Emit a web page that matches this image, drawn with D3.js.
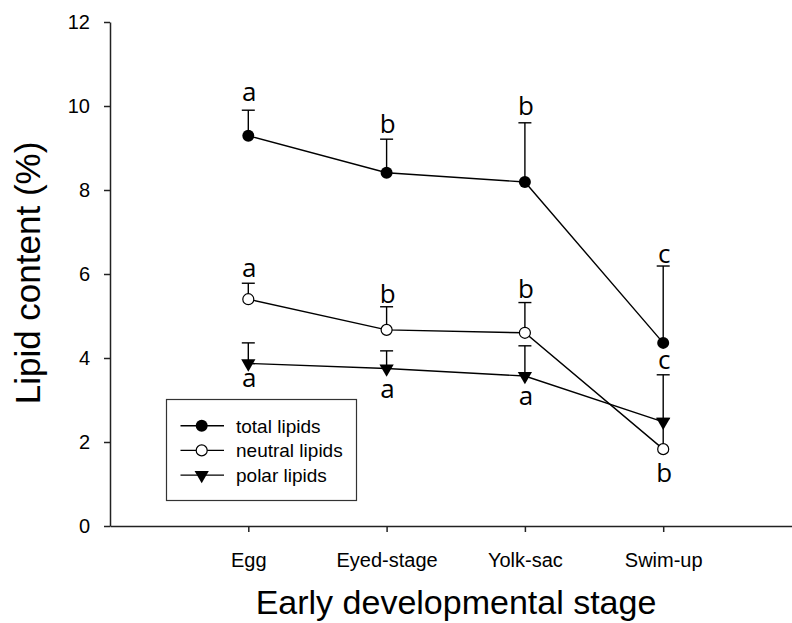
<!DOCTYPE html>
<html>
<head>
<meta charset="utf-8">
<script src="https://cdn.jsdelivr.net/npm/d3@7"></script>
<style>
  html, body { margin: 0; padding: 0; background: #fff; }
  svg { display: block; }
</style>
</head>
<body>
<svg id="chart" width="792" height="623"></svg>
<script>
// ---- Data ----
const categories = ["Egg", "Eyed-stage", "Yolk-sac", "Swim-up"];
const yTicks = [0, 2, 4, 6, 8, 10, 12];

const totalLipids   = [9.29, 8.41, 8.19, 4.36];
const totalErrTop   = [9.90, 9.21, 9.60, 6.19];
const neutralLipids = [5.40, 4.67, 4.60, 1.83];
const neutralErrTop = [5.78, 5.22, 5.32, 2.56];
const polarLipids   = [3.87, 3.75, 3.57, 2.48];
const polarErrTop   = [4.36, 4.17, 4.29, 3.60];

// significance letters and the value level of their baseline
const totalLetters   = ["a", "b", "b", "c"];
const totalLetterY   = [10.13, 9.35, 9.79, 6.27];
const neutralLetters = ["a", "b", "b", "b"];
const neutralLetterY = [5.94, 5.30, 5.43, 1.05];
const polarLetters   = ["a", "a", "a", "c"];
const polarLetterY   = [3.31, 3.05, 2.88, 3.74];

const seriesNames = ["total lipids", "neutral lipids", "polar lipids"];

// ---- Build ----
const series = [
  { name: seriesNames[0], values: totalLipids, err: totalErrTop, letters: totalLetters, letterY: totalLetterY, symbol: "filled" },
  { name: seriesNames[1], values: neutralLipids, err: neutralErrTop, letters: neutralLetters, letterY: neutralLetterY, symbol: "open" },
  { name: seriesNames[2], values: polarLipids, err: polarErrTop, letters: polarLetters, letterY: polarLetterY, symbol: "triangle" }
];

const svg = d3.select("#chart");
const x = d3.scaleLinear().domain([0, 5]).range([110, 801.5]);
const y = d3.scaleLinear().domain([0, 12]).range([526, 22]);

const axisColor = "#222";
const tickFont = "'Liberation Sans', Arial, sans-serif";

// Y axis
const gy = svg.append("g").attr("transform", "translate(110,0)")
  .call(d3.axisLeft(y).tickValues(yTicks).tickSize(6).tickPadding(14).tickSizeOuter(0));
gy.select(".domain").attr("stroke", axisColor).attr("stroke-width", 1.5);
gy.selectAll(".tick line").attr("stroke", axisColor).attr("stroke-width", 1.5);
gy.selectAll(".tick text").attr("font-family", tickFont).attr("font-size", 20).attr("fill", "#000");

// X axis
const gx = svg.append("g").attr("transform", "translate(0,526)")
  .call(d3.axisBottom(x).tickValues([1, 2, 3, 4]).tickFormat(i => categories[i - 1])
    .tickSize(6).tickPadding(21).tickSizeOuter(0));
gx.select(".domain").attr("stroke", axisColor).attr("stroke-width", 1.5);
gx.selectAll(".tick line").attr("stroke", axisColor).attr("stroke-width", 1.5);
gx.selectAll(".tick text").attr("font-family", tickFont).attr("font-size", 20).attr("fill", "#000");

// Axis titles
svg.append("text")
  .attr("x", 456).attr("y", 614)
  .attr("text-anchor", "middle")
  .attr("font-family", tickFont).attr("font-size", 34)
  .text("Early developmental stage");

svg.append("text")
  .attr("transform", "translate(40,273) rotate(-90)")
  .attr("text-anchor", "middle")
  .attr("font-family", tickFont).attr("font-size", 35)
  .text("Lipid content (%)");

// Lines
const line = d3.line().x((d, i) => x(i + 1)).y(d => y(d));
series.forEach(s => {
  svg.append("path").attr("d", line(s.values))
    .attr("fill", "none").attr("stroke", "#000").attr("stroke-width", 1.4);
});

// Error bars (upper only)
const capW = 13;
series.forEach(s => {
  const g = svg.append("g").attr("stroke", "#000").attr("stroke-width", 1.4);
  s.values.forEach((v, i) => {
    g.append("line").attr("x1", x(i + 1)).attr("x2", x(i + 1)).attr("y1", y(v)).attr("y2", y(s.err[i]));
    g.append("line").attr("x1", x(i + 1) - capW / 2).attr("x2", x(i + 1) + capW / 2)
      .attr("y1", y(s.err[i])).attr("y2", y(s.err[i]));
  });
});

// Markers
function drawMarker(g, type, cx, cy) {
  if (type === "filled") {
    g.append("circle").attr("cx", cx).attr("cy", cy).attr("r", 6).attr("fill", "#000");
  } else if (type === "open") {
    g.append("circle").attr("cx", cx).attr("cy", cy).attr("r", 5.5)
      .attr("fill", "#fff").attr("stroke", "#000").attr("stroke-width", 1.2);
  } else {
    g.append("path").attr("d", d3.symbol().type(d3.symbolTriangle).size(88)())
      .attr("transform", `translate(${cx},${cy}) rotate(180)`).attr("fill", "#000");
  }
}
series.forEach(s => {
  const g = svg.append("g");
  s.values.forEach((v, i) => drawMarker(g, s.symbol, x(i + 1), y(v)));
});

// Letters
const letterFont = "'Open Sans', 'Noto Sans', sans-serif";
series.forEach(s => {
  s.letters.forEach((L, i) => {
    svg.append("text").attr("x", x(i + 1) + 1).attr("y", y(s.letterY[i]))
      .attr("text-anchor", "middle").attr("font-family", letterFont).attr("font-size", 26)
      .attr("fill", "#000").text(L);
  });
});

// Legend
const lg = svg.append("g");
lg.append("rect").attr("x", 166.5).attr("y", 399.5).attr("width", 190).attr("height", 101)
  .attr("fill", "#fff").attr("stroke", "#333").attr("stroke-width", 1.2);
series.forEach((s, k) => {
  const cy = 425.7 + k * 24.7;
  lg.append("line").attr("x1", 180.5).attr("x2", 224).attr("y1", cy).attr("y2", cy)
    .attr("stroke", "#000").attr("stroke-width", 1.4);
  drawMarker(lg, s.symbol, 201.7, cy);
  lg.append("text").attr("x", 236).attr("y", cy + 7)
    .attr("font-family", tickFont).attr("font-size", 19).attr("fill", "#000").text(s.name);
});
</script>
</body>
</html>
